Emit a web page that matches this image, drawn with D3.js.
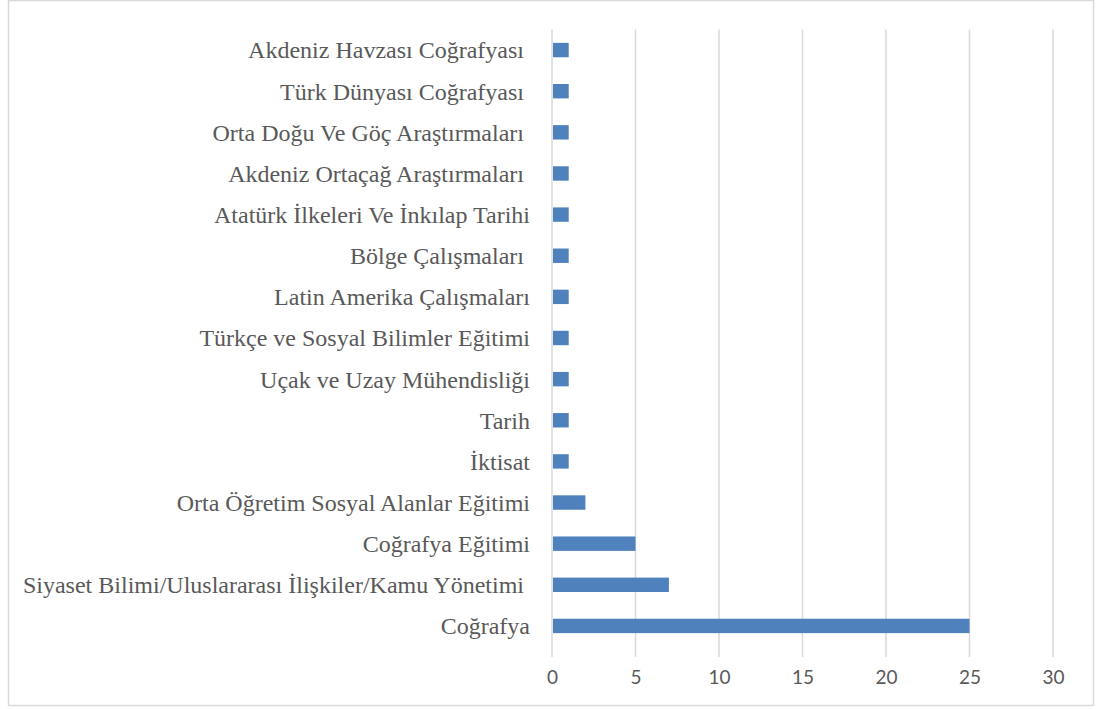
<!DOCTYPE html>
<html><head><meta charset="utf-8">
<script src="https://cdn.jsdelivr.net/npm/d3@7"></script>
<style>
html,body{margin:0;padding:0;background:#fff;}
svg text{white-space:pre;}
</style></head>
<body><svg id="c" width="1097" height="709"></svg>
<script>
// categories top to bottom
const categories = [
  "Akdeniz Havzası Coğrafyası ",
  "Türk Dünyası Coğrafyası ",
  "Orta Doğu Ve Göç Araştırmaları ",
  "Akdeniz Ortaçağ Araştırmaları ",
  "Atatürk İlkeleri Ve İnkılap Tarihi",
  "Bölge Çalışmaları ",
  "Latin Amerika Çalışmaları",
  "Türkçe ve Sosyal Bilimler Eğitimi",
  "Uçak ve Uzay Mühendisliği",
  "Tarih",
  "İktisat",
  "Orta Öğretim Sosyal Alanlar Eğitimi",
  "Coğrafya Eğitimi",
  "Siyaset Bilimi/Uluslararası İlişkiler/Kamu Yönetimi ",
  "Coğrafya"
];
const values = [1,1,1,1,1,1,1,1,1,1,1,2,5,7,25];
const xTicks = [0,5,10,15,20,25,30];

const svg = d3.select("#c");
svg.append("rect").attr("x",8.5).attr("y",0.5).attr("width",1085).attr("height",705)
  .attr("fill","#fff").attr("stroke","#d9d9d9").attr("stroke-width",1.5);

const x = d3.scaleLinear().domain([0,30]).range([552,1053]);
const y = d3.scaleBand().domain(categories).range([29.5,646.5]).paddingInner(0.65).paddingOuter(0.325);

// gridlines
svg.append("g").selectAll("line").data(xTicks).join("line")
  .attr("x1",d=>x(d)).attr("x2",d=>x(d)).attr("y1",29.5).attr("y2",657)
  .attr("stroke","#d9d9d9").attr("stroke-width",1.5);

// bars
svg.append("g").selectAll("rect").data(categories).join("rect")
  .attr("x",x(0)+1).attr("y",d=>y(d))
  .attr("width",(d,i)=>x(values[i])-x(0)-1).attr("height",y.bandwidth())
  .attr("fill","#4f81bd");

// category labels
svg.append("g").selectAll("text").data(categories).join("text")
  .attr("x",530).attr("y",d=>y(d)+y.bandwidth()/2).attr("dy","0.35em")
  .attr("text-anchor","end")
  .attr("font-family","'Liberation Serif','Times New Roman',serif")
  .attr("font-size",24).attr("fill","#595959")
  .text(d=>d);

// x tick labels
const xAxis = d3.axisBottom(x).tickValues(xTicks).tickSize(0).tickPadding(0);
const ax = svg.append("g").attr("transform","translate(0,684)").call(xAxis);
ax.select(".domain").remove();
ax.selectAll("text").attr("dy",0).attr("font-family","Lato, 'Open Sans', sans-serif")
  .attr("font-size",19).attr("fill","#595959");
</script></body></html>
